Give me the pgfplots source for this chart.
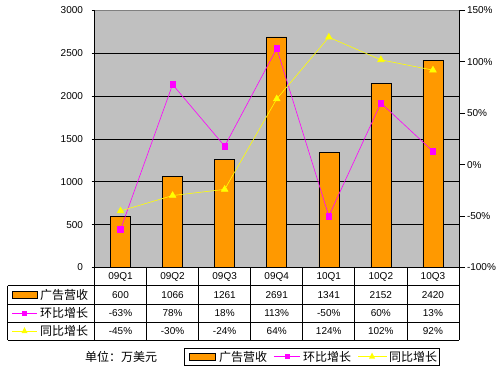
\documentclass[border=0pt]{standalone}
\usepackage{fontspec}
\setmainfont{Liberation Sans}
\newfontfamily\cjk{Noto Sans CJK SC}
\usepackage{pgfplots}
\pgfplotsset{compat=1.18}
\definecolor{barorange}{HTML}{FF9900}
\definecolor{plotgray}{HTML}{C0C0C0}
\definecolor{mag}{HTML}{FF00FF}
\definecolor{yel}{HTML}{FFFF00}
\begin{document}
\begin{tikzpicture}[x=1pt,y=1pt]
\useasboundingbox[fill=white] (0,0) rectangle (503,370);
\begin{axis}[
  at={(94.5pt,102.5pt)}, anchor=south west,
  scale only axis, width=364.5pt, height=257pt,
  xmin=-0.5, xmax=6.5, ymin=0, ymax=3000,
  axis background/.style={fill=plotgray},
  axis x line=none, axis y line*=left,
  axis line style={black, line width=0.8pt},
  xtick=\empty,
  ytick={0,500,...,3000},
  ymajorgrids, grid style={black, line width=0.8pt},
  tick align=outside, major tick length=3pt,
  tick style={black, line width=0.8pt},
  /pgf/number format/1000 sep={},
  /pgf/number format/assume math mode=true,
  yticklabel style={font=\fontsize{10}{12}\selectfont, xshift=-5pt},
  clip=false,
]
\addplot[ybar, bar width=20pt, fill=barorange, draw=black, line width=0.6pt]
  coordinates {(0,600) (1,1066) (2,1261) (3,2691) (4,1341) (5,2152) (6,2420)};
\draw[gray, line width=0.8pt] (rel axis cs:0,1) -- (rel axis cs:1,1);
\end{axis}
\begin{axis}[
  at={(94.5pt,102.5pt)}, anchor=south west,
  scale only axis, width=364.5pt, height=257pt,
  xmin=-0.5, xmax=6.5, ymin=-100, ymax=150,
  axis x line=none, axis y line*=right,
  axis line style={black, line width=0.8pt},
  xtick=\empty,
  ytick={-100,-50,...,150},
  yticklabel={\pgfmathprintnumber{\tick}\%},
  tick align=outside, major tick length=6pt,
  tick style={black, line width=0.8pt},
  /pgf/number format/assume math mode=true,
  yticklabel style={font=\fontsize{10}{12}\selectfont, xshift=-1.5pt},
  clip=false,
]
\addplot[mag, line width=0.6pt, mark=square*, mark size=2.8pt, mark options={fill=mag, draw=mag}]
  coordinates {(0,-63) (1,78) (2,18) (3,113) (4,-50) (5,60) (6,13)};
\addplot[yel, line width=0.6pt, mark=triangle*, mark size=3.8pt, mark options={fill=yel, draw=yel}]
  coordinates {(0,-45) (1,-30) (2,-24) (3,64) (4,124) (5,102) (6,92)};
\end{axis}
% table
\begin{scope}[line width=0.8pt]
\draw (94.5,102.5) -- (459,102.5);
\draw (7.5,84.3) -- (459,84.3);
\draw (7.5,66) -- (459,66);
\draw (7.5,48) -- (459,48);
\draw (7.5,30) -- (459,30);
\draw (7.5,84.3) -- (7.5,30);
\foreach \k in {0,...,7} { \draw (94.5+52.07*\k,102.5) -- (94.5+52.07*\k,30); }
\end{scope}
\foreach \lab [count=\i from 0] in {09Q1,09Q2,09Q3,09Q4,10Q1,10Q2,10Q3}
  \node[font=\fontsize{10}{12}\selectfont] at (120.5+52.07*\i,93.4) {\lab};
\foreach \lab [count=\i from 0] in {600,1066,1261,2691,1341,2152,2420}
  \node[font=\fontsize{10}{12}\selectfont] at (120.5+52.07*\i,75.1) {\lab};
\foreach \lab [count=\i from 0] in {-63\%,78\%,18\%,113\%,-50\%,60\%,13\%}
  \node[font=\fontsize{10}{12}\selectfont] at (120.5+52.07*\i,57) {\lab};
\foreach \lab [count=\i from 0] in {-45\%,-30\%,-24\%,64\%,124\%,102\%,92\%}
  \node[font=\fontsize{10}{12}\selectfont] at (120.5+52.07*\i,39) {\lab};
% row keys
\draw[fill=barorange, draw=black, line width=0.6pt] (12,71.5) rectangle (37,78.5);
\node[anchor=west, inner sep=0, font=\cjk\fontsize{12}{14}\selectfont] at (40,75.1) {广告营收};
\draw[mag, line width=0.6pt] (12,57) -- (37,57);
\fill[mag] (22,54.5) rectangle (27,59.5);
\node[anchor=west, inner sep=0, font=\cjk\fontsize{12}{14}\selectfont] at (40,57) {环比增长};
\draw[yel, line width=0.6pt] (12,39) -- (37,39);
\fill[yel] (21.5,37) -- (27.5,37) -- (24.5,43) -- cycle;
\node[anchor=west, inner sep=0, font=\cjk\fontsize{12}{14}\selectfont] at (40,39) {同比增长};
% footer
\node[anchor=west, inner sep=0, font=\cjk\fontsize{12}{14}\selectfont] at (85,13) {单位：万美元};
\draw[line width=0.8pt] (184,5) rectangle (439,22);
\draw[fill=barorange, draw=black, line width=0.6pt] (189.5,10) rectangle (215,17);
\node[anchor=west, inner sep=0, font=\cjk\fontsize{12}{14}\selectfont] at (219,13.5) {广告营收};
\draw[mag, line width=0.6pt] (274,13.5) -- (300,13.5);
\fill[mag] (284.5,11) rectangle (289.5,16);
\node[anchor=west, inner sep=0, font=\cjk\fontsize{12}{14}\selectfont] at (303,13.5) {环比增长};
\draw[yel, line width=0.6pt] (358,13.5) -- (387,13.5);
\fill[yel] (369,11.5) -- (375,11.5) -- (372,17.5) -- cycle;
\node[anchor=west, inner sep=0, font=\cjk\fontsize{12}{14}\selectfont] at (389,13.5) {同比增长};
\end{tikzpicture}
\end{document}
